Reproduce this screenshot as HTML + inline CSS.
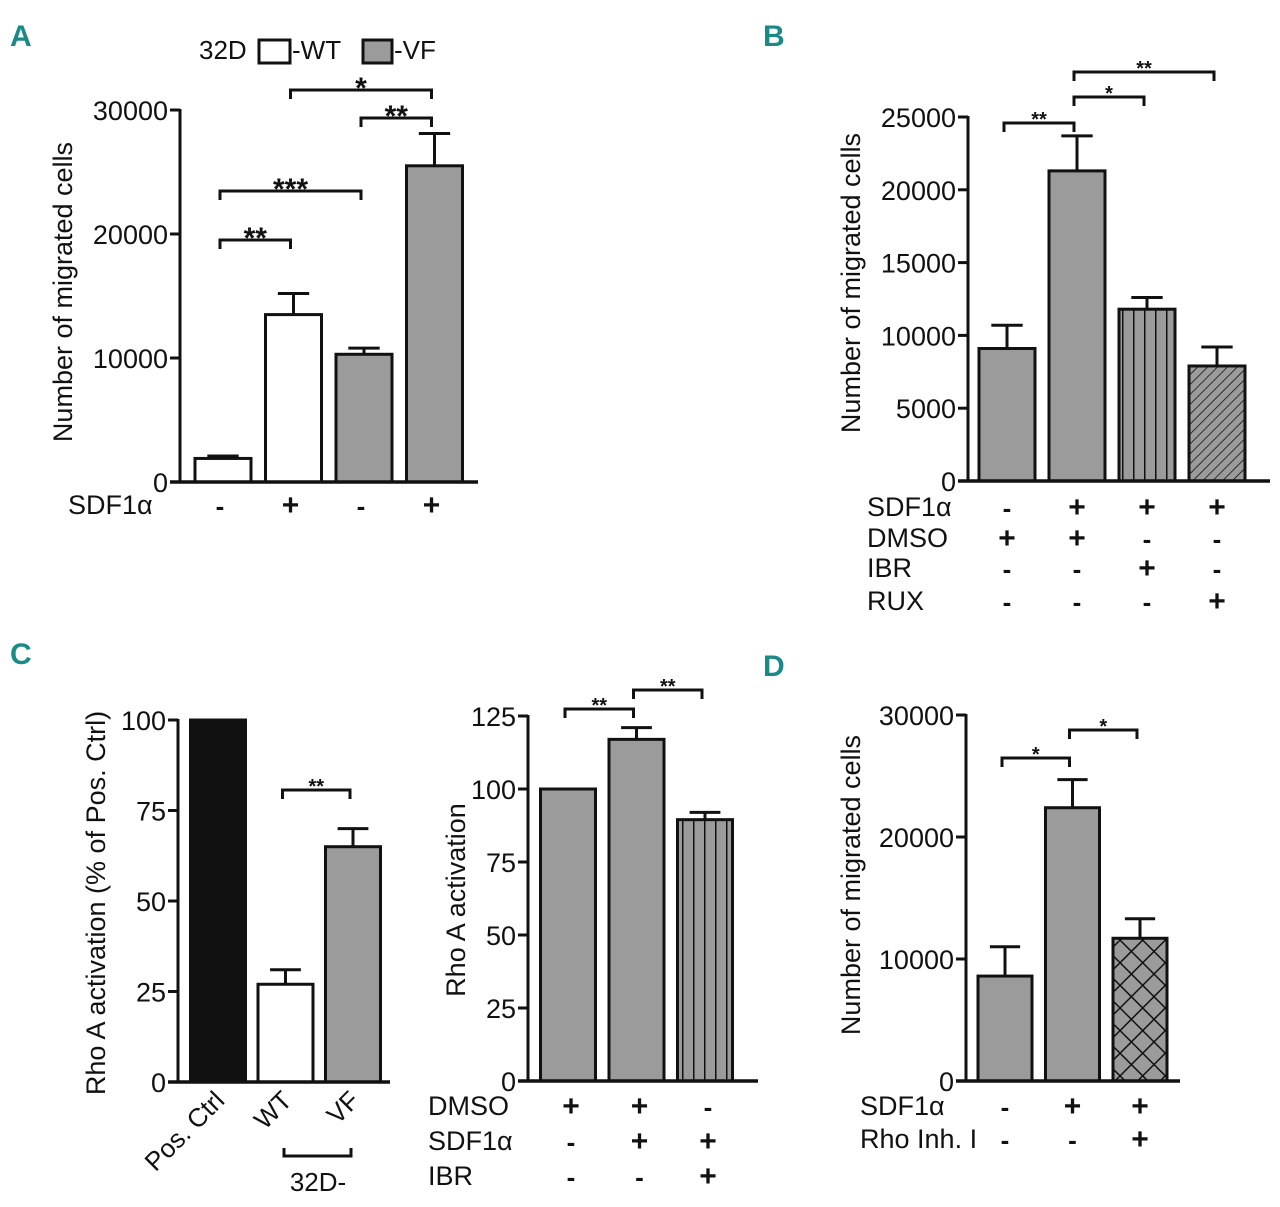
<!DOCTYPE html>
<html><head><meta charset="utf-8"><style>
html,body{margin:0;padding:0;background:#fff;}
svg{display:block;}
text{font-family:"Liberation Sans Narrow","Liberation Sans",sans-serif;fill:#111;}
.lt{font-family:"Liberation Sans Narrow","Liberation Sans",sans-serif;font-weight:bold;fill:#1a8a87;font-size:30px;}
</style></head><body>
<svg id="fig" width="1280" height="1207" viewBox="0 0 1280 1207" xmlns="http://www.w3.org/2000/svg">
<defs>
<pattern id="pv" patternUnits="userSpaceOnUse" width="11" height="10"><rect width="11" height="10" fill="#9b9b9b"/><line x1="0" y1="0" x2="0" y2="10" stroke="#111" stroke-width="3"/></pattern>
<pattern id="pd" patternUnits="userSpaceOnUse" width="7" height="7" patternTransform="rotate(45)"><rect width="7" height="7" fill="#9b9b9b"/><line x1="0" y1="0" x2="0" y2="7" stroke="#111" stroke-width="1.6"/></pattern>
<pattern id="px" patternUnits="userSpaceOnUse" width="16" height="16" patternTransform="rotate(45)"><rect width="16" height="16" fill="#9b9b9b"/><line x1="0" y1="0" x2="0" y2="16" stroke="#111" stroke-width="3"/><line x1="0" y1="0" x2="16" y2="0" stroke="#111" stroke-width="3"/></pattern>
</defs>
<text class="lt" x="10" y="46">A</text>
<text class="lt" x="763" y="46">B</text>
<text class="lt" x="10" y="664">C</text>
<text class="lt" x="763" y="676">D</text>
<g>
<text x="199" y="59" font-size="26">32D</text>
<rect x="259" y="40" width="31" height="23" fill="#fff" stroke="#111" stroke-width="3"/>
<text x="292" y="59" font-size="26">-WT</text>
<rect x="363" y="40" width="29" height="23" fill="#9b9b9b" stroke="#111" stroke-width="3"/>
<text x="394" y="59" font-size="26">-VF</text>
</g>
</svg>
<script>
// Panel A data
const aValues = [1900, 13500, 10300, 25500];
const aErrors = [2100, 15200, 10800, 28100];
const aTicks = [0, 10000, 20000, 30000];
// Panel B data
const bValues = [9100, 21300, 11800, 7900];
const bErrors = [10700, 23700, 12600, 9200];
const bTicks = [0, 5000, 10000, 15000, 20000, 25000];
// Panel C left data
const c1Categories = ["Pos. Ctrl", "WT", "VF"];
const c1Values = [100, 27, 65];
const c1Errors = [100, 31, 70];
const c1Ticks = [0, 25, 50, 75, 100];
// Panel C right data
const c2Values = [100, 117, 89.5];
const c2Errors = [100, 121, 92];
const c2Ticks = [0, 25, 50, 75, 100, 125];
// Panel D data
const dValues = [8600, 22400, 11700];
const dErrors = [11000, 24700, 13300];
const dTicks = [0, 10000, 20000, 30000];

const NS = "http://www.w3.org/2000/svg";
const svg = document.getElementById('fig');
function mk(tag, attrs, parent, txt) {
  const e = document.createElementNS(NS, tag);
  for (const k in attrs) e.setAttribute(k, attrs[k]);
  if (txt !== undefined) e.textContent = txt;
  (parent || svg).appendChild(e);
  return e;
}

function panel(cfg) {
  const g = mk('g', {});
  
  
  const y = v => cfg.y0 - (v / cfg.max) * (cfg.y0 - cfg.yTop);
  cfg.values.forEach((v, i) => {
    const cx = cfg.cx0 + i * cfg.step;
    const e = cfg.errors[i];
    if (e > v) {
      const el = mk('line', {x1: cx, x2: cx, y1: y(v), y2: y(e), stroke: '#111', 'stroke-width': 3}, g);
      
      
      const cap = mk('line', {x1: cx - cfg.w * 0.28, x2: cx + cfg.w * 0.28, y1: y(e), y2: y(e), stroke: '#111', 'stroke-width': 3}, g);
      
      
    }
    const r = mk('rect', {x: cx - cfg.w / 2, y: y(v), width: cfg.w, height: cfg.y0 - y(v), fill: cfg.fills[i], stroke: '#111', 'stroke-width': 3}, g);
    
    
  });
  const ya = mk('line', {x1: cfg.ax, x2: cfg.ax, y1: y(cfg.ticks[cfg.ticks.length - 1]) - 1, y2: cfg.y0 + 1.5, stroke: '#111', 'stroke-width': 3}, g);
  
  
  const xa = mk('line', {x1: cfg.ax - 10, x2: cfg.xEnd, y1: cfg.y0, y2: cfg.y0, stroke: '#111', 'stroke-width': 3.5}, g);
  
  
  cfg.ticks.forEach(t => {
    const tk = mk('line', {x1: cfg.ax - 10, x2: cfg.ax, y1: y(t), y2: y(t), stroke: '#111', 'stroke-width': 3}, g);
    
    
    const tl = mk('text', {x: cfg.ax - 12, y: y(t) + 10, 'font-size': 27, 'text-anchor': 'end'}, g, String(t));
    
    
  });
  const tt = mk('text', {x: 0, y: 0, 'font-size': 27, 'text-anchor': 'middle', transform: `translate(${cfg.titleX},${cfg.titleY}) rotate(-90)`}, g, cfg.title);
  
  
  (cfg.sig || []).forEach(s => {
    const x1 = cfg.cx0 + s[0] * cfg.step - 3, x2 = cfg.cx0 + s[1] * cfg.step - 3;
    const p = mk('path', {d: `M${x1},${s[2] + 9}V${s[2]}H${x2}V${s[2] + 9}`, fill: 'none', stroke: '#111', 'stroke-width': 3}, g);
    
    
    const st = mk('text', {x: (x1 + x2) / 2, y: s[2] - 3 + (cfg.starSize > 20 ? 11 : 6), 'font-size': cfg.starSize, 'font-weight': 'bold', 'text-anchor': 'middle'}, g, s[3]);
    
    
  });
  (cfg.rows || []).forEach(row => {
    const lb = mk('text', {x: cfg.rowX, y: row[1], 'font-size': 27}, g, row[0]);
    
    
    row[2].forEach((m, i) => {
      const mt = mk('text', {x: cfg.cx0 + i * cfg.step + (cfg.markDx || 0), y: row[1] + 1, 'font-size': m === '+' ? 30 : 26, 'font-weight': 'bold', 'text-anchor': 'middle'}, g, m);
      
      
    });
  });
  return g;
}

const G = '#9b9b9b';
panel({name: 'panel-a-chart', values: aValues, errors: aErrors, ticks: aTicks, max: 30000, ax: 180, y0: 482, yTop: 110, xEnd: 478, cx0: 223, step: 70.5, w: 56,
  fills: ['#fff', '#fff', G, G], title: 'Number of migrated cells', titleX: 72, titleY: 292, starSize: 30,
  sig: [[0, 1, 240, '**'], [0, 2, 191, '***'], [2, 3, 118, '**'], [1, 3, 90, '*']],
  rows: [['SDF1\u03b1', 514, ['-', '+', '-', '+']]], rowX: 68, markDx: -3});
panel({name: 'panel-b-chart', values: bValues, errors: bErrors, ticks: bTicks, max: 25000, ax: 968, y0: 481, yTop: 117, xEnd: 1270, cx0: 1007, step: 70, w: 56,
  fills: [G, G, 'url(#pv)', 'url(#pd)'], title: 'Number of migrated cells', titleX: 860, titleY: 283, starSize: 20,
  sig: [[0, 1, 123, '**'], [1, 2, 97, '*'], [1, 3, 72, '**']],
  rows: [['SDF1\u03b1', 516, ['-', '+', '+', '+']], ['DMSO', 547, ['+', '+', '-', '-']], ['IBR', 577, ['-', '-', '+', '-']], ['RUX', 610, ['-', '-', '-', '+']]], rowX: 867, markDx: 0});
panel({name: 'panel-c-left-chart', values: c1Values, errors: c1Errors, ticks: c1Ticks, max: 100, ax: 178, y0: 1082, yTop: 720, xEnd: 390, cx0: 218, step: 67.5, w: 55,
  fills: ['#111', '#fff', G], title: 'Rho A activation (% of Pos. Ctrl)', titleX: 105, titleY: 903, starSize: 20,
  sig: [[1, 2, 790, '**']]});
panel({name: 'panel-c-right-chart', values: c2Values, errors: c2Errors, ticks: c2Ticks, max: 125, ax: 528, y0: 1081, yTop: 716, xEnd: 758, cx0: 568, step: 68.5, w: 55,
  fills: [G, G, 'url(#pv)'], title: 'Rho A activation', titleX: 465, titleY: 900, starSize: 20,
  sig: [[0, 1, 709, '**'], [1, 2, 690, '**']],
  rows: [['DMSO', 1115, ['+', '+', '-']], ['SDF1\u03b1', 1150, ['-', '+', '+']], ['IBR', 1185, ['-', '-', '+']]], rowX: 428, markDx: 3});
panel({name: 'panel-d-chart', values: dValues, errors: dErrors, ticks: dTicks, max: 30000, ax: 966, y0: 1081, yTop: 715, xEnd: 1180, cx0: 1005, step: 67.5, w: 54,
  fills: [G, G, 'url(#px)'], title: 'Number of migrated cells', titleX: 860, titleY: 885, starSize: 20,
  sig: [[0, 1, 758, '*'], [1, 2, 730, '*']],
  rows: [['SDF1\u03b1', 1115, ['-', '+', '+']], ['Rho Inh. I', 1148, ['-', '-', '+']]], rowX: 860, markDx: 0});

c1Categories.forEach((c, i) => {
  const cx = 218 + i * 67.5 + 8;
  const t = mk('text', {x: 0, y: 0, 'font-size': 26, 'text-anchor': 'end', transform: `translate(${cx},${1102}) rotate(-45)`}, svg, c);
  
  
});
const gb = mk('path', {d: 'M284,1148V1156H351V1148', fill: 'none', stroke: '#111', 'stroke-width': 3});


const gl = mk('text', {x: 318, y: 1191, 'font-size': 26, 'text-anchor': 'middle'}, svg, '32D-');


</script>
</body></html>
